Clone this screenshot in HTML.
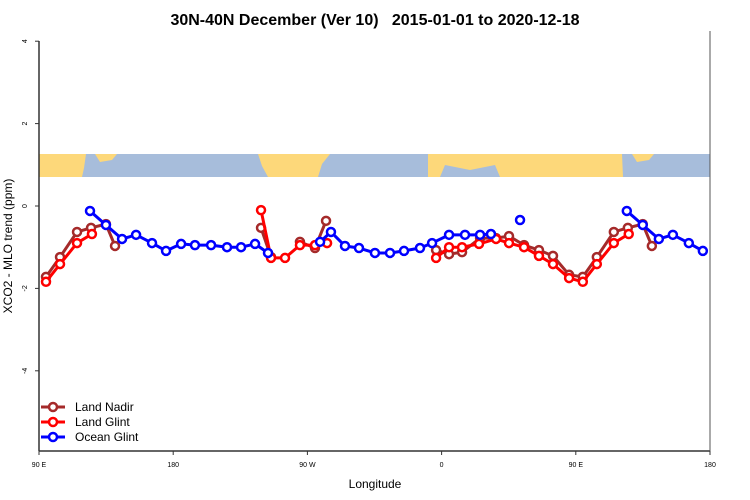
<!DOCTYPE html>
<html><head><meta charset="utf-8"><style>
body{margin:0;background:#fff}
svg{display:block;font-family:"Liberation Sans",sans-serif}
</style></head><body>
<svg id="c" width="750" height="500">
<text x="375" y="25" text-anchor="middle" font-size="16" font-weight="bold" style="white-space:pre">30N-40N December (Ver 10)   2015-01-01 to 2020-12-18</text>
<text x="375" y="488" text-anchor="middle" font-size="12">Longitude</text>
<text transform="translate(12,246) rotate(-90)" text-anchor="middle" font-size="12">XCO2 - MLO trend (ppm)</text>
<g id="map"></g>
<g id="axes"></g>
<g id="series"></g>
<g id="legend"></g>
</svg>
<script>
const xTicks=[90,180,270,360,450,540];
const xTickLabels=["90 E","180","90 W","0","90 E","180"];
const yTicks=[4,2,0,-2,-4];
const nadirLon=[94.7,104.1,115.5,124.9,134.9,141,238.9,245.6,265,275.1,282.5,356.3,365,373.7,385.8,396.5,405.2,415.3,425.3,434.7,445.5];
const nadirVal=[-1.72,-1.24,-0.63,-0.53,-0.44,-0.97,-0.53,-1.24,-0.87,-1.02,-0.36,-1.07,-1.17,-1.12,-0.78,-0.78,-0.73,-0.95,-1.07,-1.21,-1.67];
const glintLon=[94.7,104.1,115.5,125.5,238.9,245.6,255,265,275.1,283.2,356.3,365,373.7,385.1,396.5,405.2,415.3,425.3,434.7,445.5];
const glintVal=[-1.84,-1.41,-0.9,-0.68,-0.1,-1.26,-1.26,-0.95,-0.95,-0.9,-1.26,-1.0,-1.0,-0.92,-0.8,-0.9,-1.0,-1.21,-1.41,-1.75];
const oceanLon=[124.2,134.9,145.7,155.1,165.8,175.2,185.3,194.6,205.4,216.1,225.5,234.9,243.6,278.5,285.8,295.2,304.6,315.3,325.4,334.8,345.5,353.6,365,375.7,385.8,393.1,412.6];
const oceanVal=[-0.12,-0.46,-0.8,-0.7,-0.9,-1.09,-0.92,-0.95,-0.95,-1.0,-1.0,-0.92,-1.14,-0.87,-0.63,-0.97,-1.02,-1.14,-1.14,-1.09,-1.02,-0.9,-0.7,-0.7,-0.7,-0.68,-0.34];
const NS='http://www.w3.org/2000/svg';
const X0=39,X1=710,Y0=451,YT=41;
function sx(l){return X0+(l-90)*(X1-X0)/450;}
function sy(v){return 206-v*41.2;}
function mk(t,a,p){const e=document.createElementNS(NS,t);for(const k in a)e.setAttribute(k,a[k]);(p||document.getElementById('c')).appendChild(e);return e;}
const map=document.getElementById('map');
let bg=mk('rect',{x:X0,y:154,width:X1-X0,height:23,fill:'#a7bddb'},map);


const land=[[39,154,86,154,84,168,82,177,39,177],[95,154,117,154,112,160,100,162],[258,154,330,154,322,164,318,177,268,177,262,166],[428,154,622,154,623,177,500,177,495,165,470,170,445,165,440,177,428,177],[632,154,654,154,649,160,637,162]];
land.forEach(p=>{const pts=[];for(let i=0;i<p.length;i+=2)pts.push(p[i]+','+p[i+1]);
const e=mk('polygon',{points:pts.join(' '),fill:'#fdd87a'},map);

});
const ax=document.getElementById('axes');
mk('line',{x1:X0,y1:YT,x2:X0,y2:Y0,stroke:'#333','stroke-width':1.5},ax);
mk('line',{x1:X0,y1:Y0,x2:X1,y2:Y0,stroke:'#333','stroke-width':1.5},ax);
mk('line',{x1:X1,y1:YT-10,x2:X1,y2:Y0,stroke:'#555','stroke-width':1},ax);
xTicks.forEach((t,i)=>{const x=sx(t);mk('line',{x1:x,y1:Y0,x2:x,y2:Y0+4,stroke:'#333'},ax);
const e=mk('text',{x:x,y:Y0+16,'font-size':7,'text-anchor':'middle'},ax);e.textContent=xTickLabels[i];

});
yTicks.forEach(t=>{const y=sy(t);mk('line',{x1:X0-4,y1:y,x2:X0,y2:y,stroke:'#333'},ax);
const e=mk('text',{transform:`translate(27,${y}) rotate(-90)`,'font-size':7,'text-anchor':'middle'},ax);e.textContent=t;

});
function draw(lons,vals,color,name){
 const g=mk('g',{},document.getElementById('series'));
 
 
 let L=[],V=[];
 lons.forEach((l,i)=>{L.push(l);V.push(vals[i]);});
 lons.forEach((l,i)=>{if(l+360<=540){L.push(l+360);V.push(vals[i]);}});
 const idx=L.map((l,i)=>i).sort((a,b)=>L[a]-L[b]);
 let seg=[],prev=null;const segs=[];
 idx.forEach(i=>{if(prev!==null&&L[i]-prev>15){segs.push(seg);seg=[];}seg.push(i);prev=L[i];});
 segs.push(seg);
 segs.forEach(s=>{if(s.length>1){const e=mk('polyline',{points:s.map(i=>sx(L[i])+','+sy(V[i])).join(' '),fill:'none',stroke:color,'stroke-width':3,'stroke-linejoin':'round'},g);
 
 }});
 idx.forEach(i=>{const e=mk('circle',{cx:sx(L[i]),cy:sy(V[i]),r:4,fill:'#fff',stroke:color,'stroke-width':2.5},g);
 
 });
}
draw(nadirLon,nadirVal,'#a52a2a','land-nadir');
draw(glintLon,glintVal,'#ff0000','land-glint');
draw(oceanLon,oceanVal,'#0000ff','ocean-glint');
const lg=document.getElementById('legend');
[['Land Nadir','#a52a2a'],['Land Glint','#ff0000'],['Ocean Glint','#0000ff']].forEach((d,i)=>{
 const y=407+i*15;
 const g=mk('g',{},lg);
 
 
 mk('line',{x1:41,y1:y,x2:65,y2:y,stroke:d[1],'stroke-width':3},g);
 mk('circle',{cx:53,cy:y,r:4,fill:'#fff',stroke:d[1],'stroke-width':2.5},g);
 const t=mk('text',{x:75,y:y+4,'font-size':12},g);t.textContent=d[0];
});
</script>
</body></html>
